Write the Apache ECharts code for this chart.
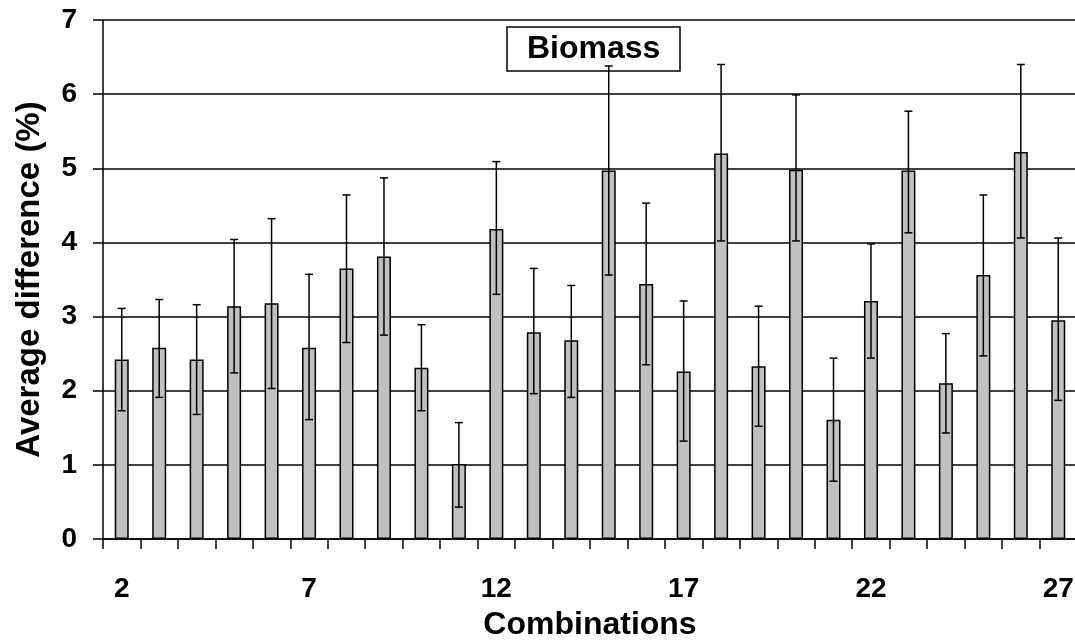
<!DOCTYPE html>
<html>
<head>
<meta charset="utf-8">
<title>Biomass</title>
<script src="https://cdn.jsdelivr.net/npm/echarts@6/dist/echarts.min.js"></script>
<style>
  html, body { margin: 0; padding: 0; background: #fff; }
  #chart { width: 1075px; height: 640px; }
</style>
</head>
<body>
<div id="chart"></div>
<script>
// Combinations 2..27
const categories = [
  "2", "3", "4", "5", "6", "7", "8", "9", "10", "11", "12", "13", "14",
  "15", "16", "17", "18", "19", "20", "21", "22", "23", "24", "25", "26", "27",
];

// Average difference (%)
const values = [
  2.42, 2.58, 2.42, 3.14, 3.18, 2.58, 3.65, 3.81, 2.31, 1.01, 4.18, 2.79, 2.68,
  4.97, 3.44, 2.26, 5.20, 2.33, 4.98, 1.61, 3.21, 4.97, 2.10, 3.56, 5.22, 2.95,
];

// error bar ends
const errLow = [
  1.73, 1.91, 1.68, 2.24, 2.03, 1.61, 2.65, 2.75, 1.73, 0.43, 3.30, 1.96, 1.91,
  3.56, 2.35, 1.32, 4.02, 1.52, 4.02, 0.78, 2.44, 4.13, 1.43, 2.47, 4.06, 1.87,
];
const errHigh = [
  3.11, 3.23, 3.16, 4.04, 4.32, 3.57, 4.64, 4.87, 2.89, 1.57, 5.09, 3.65, 3.42,
  6.38, 4.53, 3.21, 6.40, 3.14, 5.99, 2.44, 3.98, 5.77, 2.77, 4.64, 6.40, 4.06,
];

const yTicks = { min: 0, max: 7, interval: 1 };

const FONT = 'Arial, "Liberation Sans", sans-serif';
const LINE = "#000";

function renderErrorBar(params, api) {
  const idx = api.value(0);
  const top = api.coord([idx, api.value(2)]);
  const bottom = api.coord([idx, api.value(1)]);
  const half = 4;
  const style = { stroke: LINE, lineWidth: 1.5 };
  return {
    type: "group",
    children: [
      { type: "line", shape: { x1: top[0], y1: top[1], x2: bottom[0], y2: bottom[1] }, style },
      { type: "line", shape: { x1: top[0] - half, y1: top[1], x2: top[0] + half, y2: top[1] }, style },
      { type: "line", shape: { x1: bottom[0] - half, y1: bottom[1], x2: bottom[0] + half, y2: bottom[1] }, style },
    ],
  };
}

const chart = echarts.init(document.getElementById("chart"), null, { renderer: "canvas" });

chart.setOption({
  animation: false,
  backgroundColor: "#fff",
  textStyle: { fontFamily: FONT },
  title: {
    text: "Biomass",
    left: 507,
    top: 27,
    padding: [6, 20],
    borderColor: LINE,
    borderWidth: 1.5,
    textStyle: { fontFamily: FONT, fontSize: 32, fontWeight: "bold", color: "#000", lineHeight: 32 },
  },
  grid: { left: 103, right: -2, top: 20, bottom: 101, containLabel: false, outerBoundsMode: "none" },
  xAxis: {
    type: "category",
    data: categories,
    name: "Combinations",
    nameLocation: "middle",
    nameGap: 70,
    nameTextStyle: { fontFamily: FONT, fontSize: 32, fontWeight: "bold", color: "#000" },
    axisLine: { lineStyle: { color: LINE, width: 1.5 } },
    axisTick: { show: true, interval: 0, length: 10, lineStyle: { color: LINE, width: 1.5 } },
    axisLabel: { interval: 4, margin: 36, fontFamily: FONT, fontSize: 28, fontWeight: "bold", color: "#000" },
  },
  yAxis: {
    type: "value",
    min: yTicks.min,
    max: yTicks.max,
    interval: yTicks.interval,
    name: "Average difference (%)",
    nameLocation: "middle",
    nameGap: 57,
    nameTextStyle: { fontFamily: FONT, fontSize: 33, fontWeight: "bold", color: "#000" },
    axisLine: { show: true, lineStyle: { color: LINE, width: 1.5 } },
    axisTick: { show: true, length: 10, lineStyle: { color: LINE, width: 1.5 } },
    axisLabel: { margin: 26, fontFamily: FONT, fontSize: 28, fontWeight: "bold", color: "#000" },
    splitLine: { show: true, lineStyle: { color: LINE, width: 1.5 } },
  },
  series: [
    {
      type: "bar",
      data: values,
      barWidth: 14,
      itemStyle: { color: "#c0c0c0", borderColor: LINE, borderWidth: 1.5 },
    },
    {
      type: "custom",
      renderItem: renderErrorBar,
      data: categories.map((c, i) => [i, errLow[i], errHigh[i]]),
      z: 5,
    },
  ],
});
</script>
</body>
</html>
